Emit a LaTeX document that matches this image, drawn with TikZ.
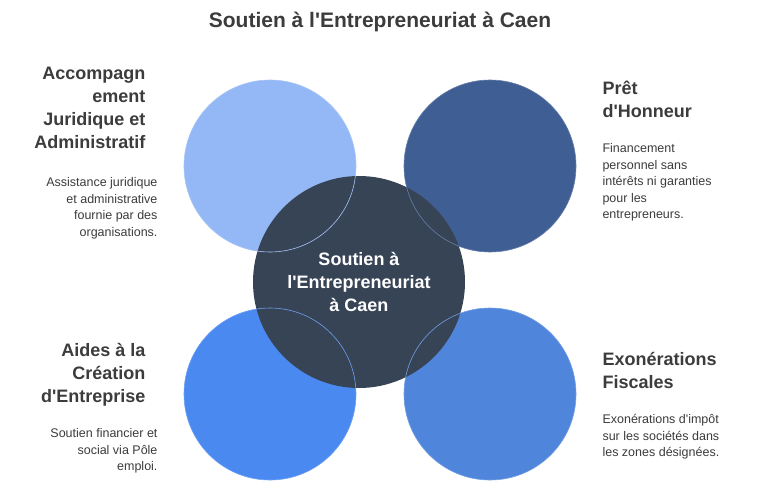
\documentclass[tikz,border=0pt]{standalone}
\usepackage{fontspec}
\setmainfont{Liberation Sans}[Ligatures=TeXOff]
\definecolor{paleblue}{HTML}{93B8F5}
\definecolor{navyblue}{HTML}{3F5E94}
\definecolor{brightblue}{HTML}{4A8AF0}
\definecolor{midblue}{HTML}{4F86DB}
\definecolor{slatecore}{HTML}{374456}
\definecolor{inkgrey}{HTML}{3C3C3C}
\tikzset{
  petal/.style={circle, minimum size=172pt, inner sep=0pt},
  heading/.style={font=\fontsize{18}{23}\selectfont\bfseries, text=inkgrey},
  blurb/.style={font=\fontsize{12.5}{16.5}\selectfont, text=inkgrey},
}
\begin{document}
\begin{tikzpicture}[x=1pt,y=-1pt]
\useasboundingbox[fill=white] (0,0) rectangle (768,501);
% Title
\node[font=\fontsize{21}{25}\selectfont\bfseries, text=inkgrey] (title) at (380,22) {Soutien à l'Entrepreneuriat à Caen};

% Outer circles
\node[petal, fill=paleblue] (legal) at (270,166) {};
\node[petal, fill=navyblue] (loan) at (490,166) {};
\node[petal, fill=brightblue] (aid) at (270,394) {};
\node[petal, fill=midblue] (tax) at (490,394) {};

% Core circle
\node[circle, minimum size=212pt, inner sep=0pt, fill=slatecore, font=\fontsize{18}{23}\selectfont\bfseries, text=white, align=center] (core) at (359,282) {Soutien à\\l'Entrepreneuriat\\à Caen};
\foreach \c/\n in {paleblue/legal, navyblue/loan, brightblue/aid, midblue/tax}
  \draw[\c!80!white, line width=0.6pt] (\n) circle (86pt);

% Left side texts
\node[heading, align=right, anchor=north east] (legalhead) at (149,64) {Accompagn\\ement\\Juridique et\\Administratif};
\node[blurb, align=right, anchor=north east] (legaltext) at (161,174) {Assistance juridique\\et administrative\\fournie par des\\organisations.};
\node[heading, align=right, anchor=north east] (aidhead) at (149,340) {Aides à la\\Création\\d'Entreprise};
\node[blurb, align=right, anchor=north east] (aidtext) at (161,425) {Soutien financier et\\social via Pôle\\emploi.};

% Right side texts
\node[heading, align=left, anchor=north west] (loanhead) at (599,78) {Prêt\\d'Honneur};
\node[blurb, align=left, anchor=north west] (loantext) at (599,140) {Financement\\personnel sans\\intérêts ni garanties\\pour les\\entrepreneurs.};
\node[heading, align=left, anchor=north west] (taxhead) at (599,349) {Exonérations\\Fiscales};
\node[blurb, align=left, anchor=north west] (taxtext) at (599,411) {Exonérations d'impôt\\sur les sociétés dans\\les zones désignées.};
\end{tikzpicture}
\end{document}
